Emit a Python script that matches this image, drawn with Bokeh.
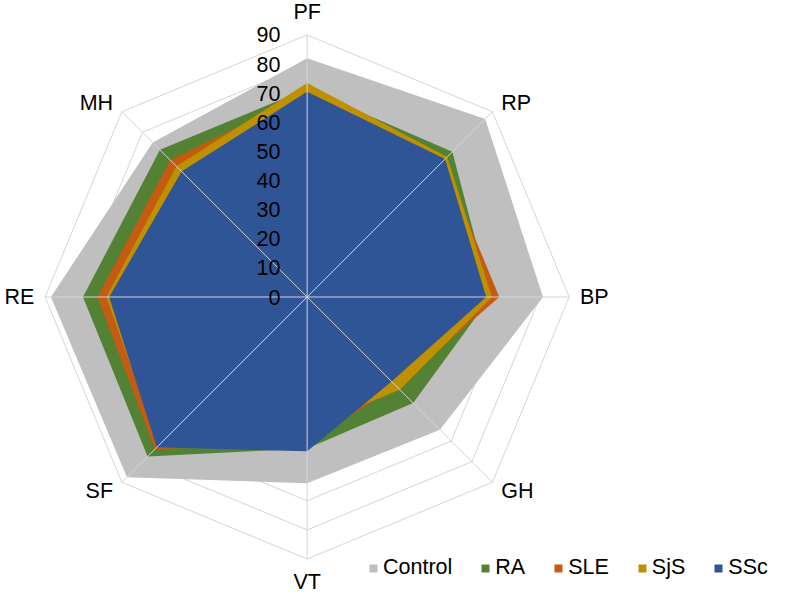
import numpy as np
from bokeh.plotting import figure
from bokeh.models import Legend, LegendItem
from bokeh.core.properties import value
from bokeh.embed import file_html
from bokeh.resources import INLINE

# ---------------- data ----------------
categories = ["PF", "RP", "BP", "GH", "VT", "SF", "RE", "MH"]
series_names = ["Control", "RA", "SLE", "SjS", "SSc"]
control = [82.0, 86.5, 81.0, 64.5, 64.0, 87.5, 88.0, 75.0]
ra = [71.5, 70.5, 63.0, 51.5, 52.0, 77.5, 77.0, 71.5]
sle = [70.0, 66.0, 66.0, 43.5, 50.0, 74.0, 72.0, 66.5]
sjs = [73.5, 68.0, 63.5, 45.0, 45.0, 72.0, 69.0, 63.5]
ssc = [70.5, 67.0, 61.5, 41.0, 53.0, 73.0, 68.0, 61.0]
value_ticks = [0, 10, 20, 30, 40, 50, 60, 70, 80, 90]

# ---------------- styles ----------------
colors = ["#BFBFBF", "#548235", "#C55A11", "#BF9000", "#2F5597"]
grid_color = "#D4D4D4"
FONT = "Liberation Sans"
FS = "21.5px"

W, H = 771, 593
K = H / 609.0               # shrink factor so the whole chart fits
CX, CY = 313.0 * W / 787.0, 304.5 * K   # centre of the radar in pixels
PX = 2.99 * K               # pixels per unit
rmax = value_ticks[-1]

p = figure(width=W, height=H,
           x_range=(-CX / PX, (W - CX) / PX),
           y_range=(-(H - CY) / PX, CY / PX),
           x_axis_type=None, y_axis_type=None,
           output_backend="svg", toolbar_location=None,
           min_border=0)
p.grid.visible = False
p.outline_line_color = None
p.background_fill_color = "white"
p.border_fill_color = "white"

n = len(categories)
ang = np.arange(n) * 2 * np.pi / n
sx, cy_ = np.sin(ang), np.cos(ang)

# rings (behind the fills)
ring_xs, ring_ys = [], []
for t in value_ticks[1:]:
    ring_xs.append(list(np.append(t * sx, t * sx[0])))
    ring_ys.append(list(np.append(t * cy_, t * cy_[0])))
p.multi_line(ring_xs, ring_ys, line_color=grid_color, line_width=1)

# filled series
series = [control, ra, sle, sjs, ssc]
renderers = []
for name, vals, col in zip(series_names, series, colors):
    v = np.array(vals)
    r = p.patch(list(v * sx), list(v * cy_), fill_color=col, line_color=None)
    renderers.append(r)

# spokes on top
p.segment(x0=[0] * n, y0=[0] * n, x1=list(rmax * sx), y1=list(rmax * cy_),
          line_color=grid_color, line_width=1)

# value labels along PF axis
p.text(x=[-27.5 * K / PX] * len(value_ticks), y=value_ticks,
       text=[str(t) for t in value_ticks],
       text_align="right", text_baseline="middle",
       text_font=value(FONT), text_font_size=FS, text_color="black")

# category labels
lx, ly, la = [], [], []
for i, c in enumerate(categories):
    dx, dy = sx[i], cy_[i]
    bx, by = rmax * dx, rmax * dy
    if abs(dx) < 0.1:
        ox, oy, al = 0.0, 24.0 * np.sign(dy), "center"
    elif abs(dy) < 0.1:
        ox, oy = 11.0 * np.sign(dx), 0.0
        al = "left" if dx > 0 else "right"
    else:
        ox, oy = 9.0 * np.sign(dx), 8.5 * np.sign(dy)
        al = "left" if dx > 0 else "right"
    lx.append(bx + ox * K / PX)
    ly.append(by + oy * K / PX)
    la.append(al)
for x, y, t, a in zip(lx, ly, categories, la):
    p.text(x=[x], y=[y], text=[t], text_align=a, text_baseline="middle",
           text_font=value(FONT), text_font_size=FS, text_color="black")

legend = Legend(items=[LegendItem(label=nm, renderers=[r]) for nm, r in zip(series_names, renderers)],
                orientation="horizontal", location=(368, 13),
                glyph_width=10, glyph_height=10, label_standoff=5, spacing=28,
                padding=0, margin=0, border_line_color=None,
                background_fill_alpha=0,
                label_text_font=FONT, label_text_font_size=FS,
                label_text_color="black")
p.add_layout(legend)

open("out.html", "w").write(file_html(p, INLINE))
